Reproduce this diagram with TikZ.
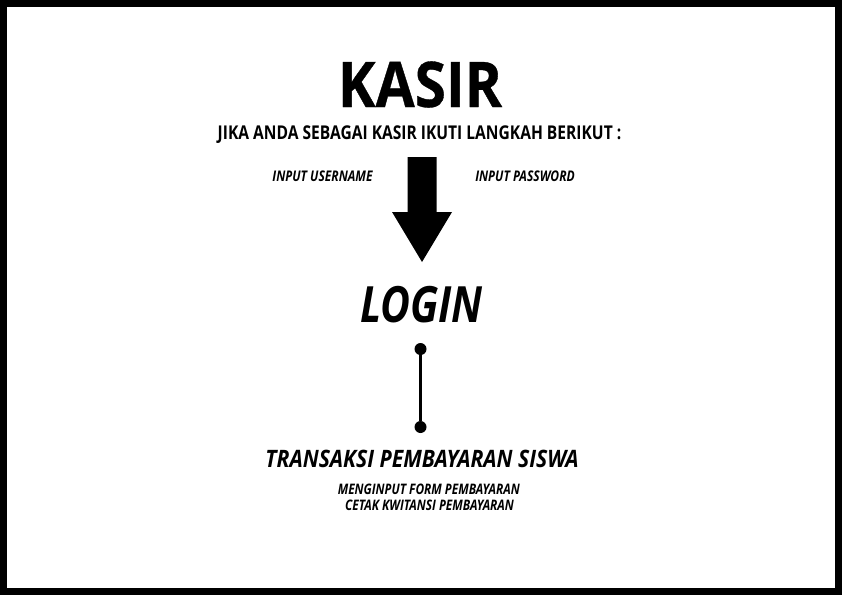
\documentclass[tikz,border=0pt]{standalone}
\usepackage{fontspec}
\setmainfont{Open Sans}[FakeStretch=0.82]
\newfontfamily\condA{Open Sans}[FakeStretch=0.82]
\newfontfamily\condB{Open Sans}[FakeStretch=0.88]
\newfontfamily\condC{Open Sans}[FakeStretch=0.90,FakeBold=0.6]
\begin{document}
\begin{tikzpicture}[x=1pt,y=-1pt,
  txt/.style={anchor=base,inner sep=0pt},
  titletxt/.style={txt,font=\condC\fontsize{63}{63}\selectfont\bfseries},
  subtxt/.style={txt,font=\condA\fontsize{19}{19}\selectfont\bfseries},
  inputtxt/.style={txt,font=\condA\fontsize{14.7}{14.7}\selectfont\bfseries\itshape},
  logintxt/.style={txt,font=\condA\fontsize{50}{50}\selectfont\bfseries\itshape},
  stagetxt/.style={txt,font=\condB\fontsize{24}{24}\selectfont\bfseries\itshape},
  smalltxt/.style={txt,font=\condA\fontsize{14.5}{14.5}\selectfont\bfseries\itshape},
  dot/.style={circle,fill=black,inner sep=0pt,minimum size=12pt},
  link/.style={line width=2.5pt}]
\useasboundingbox (0,0) rectangle (842,595);
\fill[black] (0,0) rectangle (842,595);
\fill[white] (7,7) rectangle (835,588);
\node[titletxt] (kasir) at (420,107) {KASIR};
\node[subtxt] (sub) at (419.5,139.5) {JIKA ANDA SEBAGAI KASIR IKUTI LANGKAH BERIKUT :};
\node[inputtxt] (user) at (322.5,181) {INPUT USERNAME};
\node[inputtxt] (pass) at (525,181) {INPUT PASSWORD};
\fill[black] (407.5,157) -- (436.5,157) -- (436.5,212) -- (452,212) -- (422,262) -- (392,212) -- (407.5,212) -- cycle;
\node[logintxt] (login) at (421.5,322.5) {LOGIN};
\node[dot] (d1) at (420.5,349) {};
\node[dot] (d2) at (420.5,427) {};
\draw[link] (d1) -- (d2);
\node[stagetxt] (trans) at (422,467.3) {TRANSAKSI PEMBAYARAN SISWA};
\node[smalltxt] (form) at (428.8,494.3) {MENGINPUT FORM PEMBAYARAN};
\node[smalltxt] (cetak) at (429.5,510.3) {CETAK KWITANSI PEMBAYARAN};
\end{tikzpicture}
\end{document}
